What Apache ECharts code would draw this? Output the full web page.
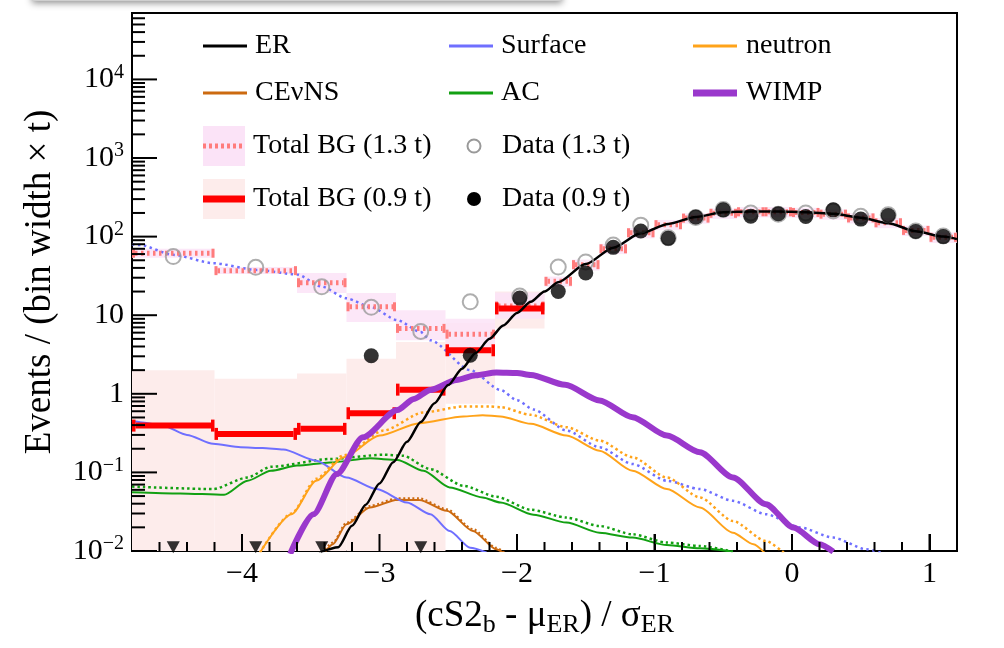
<!DOCTYPE html>
<html><head><meta charset="utf-8">
<script src="https://cdn.jsdelivr.net/npm/echarts@6/dist/echarts.min.js"></script>
<style>html,body{margin:0;padding:0;background:#fff}#c{width:1004px;height:648px}</style>
</head><body><div id="c"></div>
<script>
// ---------------- data ----------------
const binLo = [-4.8,-4.2,-3.6,-3.24,-2.88,-2.52,-2.16,-1.8,-1.6,-1.4,-1.2,-1.0,-0.8,-0.6,-0.4,-0.2,0.0,0.2,0.4,0.6,0.8,1.0];
const binHi = [-4.2,-3.6,-3.24,-2.88,-2.52,-2.16,-1.8,-1.6,-1.4,-1.2,-1.0,-0.8,-0.6,-0.4,-0.2,0.0,0.2,0.4,0.6,0.8,1.0,1.2];
const binCenter = [-4.5,-3.9,-3.42,-3.06,-2.70,-2.34,-1.98,-1.7,-1.5,-1.3,-1.1,-0.9,-0.7,-0.5,-0.3,-0.1,0.1,0.3,0.5,0.7,0.9,1.1];
const data09 = [null,null,null,3.05,null,3.1,16.5,20,34.5,73,118,95,178,219,182,195,180,219,167,186,116,100];
const data13 = [55.7,40.7,23,12.6,6.2,14.8,17.5,41,47.6,78,140,97,175,222,200,192,200,212,181,190,118,102];
const zeroBins09 = [-4.5,-3.9,-3.42,-2.70];
const bg13 = [61.5,36.9,25.9,12.8,6.8,5.74,13.1,27,44,70,112,142,172,198,207,207,203,193,173,150,120,98];
const bg13Lo = [54,33.5,19.1,8.2,4.8,3.8,9.0,23,37,60,95,121,146,168,176,176,173,164,147,128,102,83];
const bg13Hi = [70,41,34.5,19.1,11.6,9.0,19.5,31,51,81,129,163,198,228,238,238,233,222,199,173,138,113];
const bg09 = [0.394,0.309,0.358,0.566,1.13,3.58,12.2];
const bg09Lo = [0.01,0.01,0.01,0.01,0.01,0.75,6.8];
const bg09Hi = [1.99,1.56,1.81,2.8,4.57,8.0,20];

const erCurve = [[-3.44,0.0095],[-3.30,0.0112],[-3.20,0.0209],[-3.10,0.0389],[-3.00,0.0724],[-2.90,0.135],[-2.80,0.245],[-2.70,0.437],[-2.60,0.759],[-2.50,1.29],[-2.40,2.09],[-2.30,3.31],[-2.20,5.01],[-2.10,7.41],[-2.00,10.7],[-1.90,14.8],[-1.80,20],[-1.70,26.3],[-1.50,44.7],[-1.30,72.4],[-1.10,110],[-0.90,145],[-0.70,178],[-0.50,204],[-0.30,209],[-0.10,209],[0.10,204],[0.30,195],[0.50,174],[0.70,148],[0.90,117],[1.10,100],[1.20,93]];
const surfaceCurve = [[-4.8,0.45],[-4.74,0.436],[-4.57,0.39],[-4.4,0.3],[-4.21,0.231],[-4.01,0.209],[-3.85,0.204],[-3.70,0.195],[-3.46,0.141],[-3.24,0.086],[-3.02,0.0614],[-2.80,0.0414],[-2.63,0.0294],[-2.49,0.018],[-2.34,0.011],[-2.22,0.0095]];
const surface13Curve = [[-4.8,80],[-4.74,78],[-4.5,58.6],[-4.21,45.9],[-3.89,37.7],[-3.6,33],[-3.42,23.1],[-3.24,16.4],[-3.06,12.6],[-2.87,8.65],[-2.70,6.1],[-2.63,4.8],[-2.34,2.0],[-2.12,1.12],[-2.0,0.83],[-1.88,0.63],[-1.64,0.341],[-1.40,0.209],[-1.16,0.128],[-0.91,0.0783],[-0.67,0.0614],[-0.43,0.0435],[-0.19,0.0294],[0.06,0.0199],[0.30,0.0148],[0.54,0.0105],[0.65,0.0095]];
const neutronCurve = [[-3.87,0.0095],[-3.64,0.0294],[-3.46,0.0783],[-3.26,0.156],[-3.0,0.294],[-2.71,0.423],[-2.39,0.514],[-2.25,0.534],[-2.12,0.515],[-1.9,0.415],[-1.64,0.294],[-1.40,0.189],[-1.16,0.105],[-0.91,0.0614],[-0.67,0.0357],[-0.43,0.0171],[-0.28,0.0122],[-0.2,0.0095]];
const neutron13Curve = [[-3.87,0.0095],[-3.64,0.03],[-3.46,0.083],[-3.26,0.165],[-2.97,0.341],[-2.68,0.58],[-2.39,0.69],[-2.2,0.69],[-2.12,0.676],[-1.9,0.54],[-1.64,0.376],[-1.40,0.254],[-1.16,0.156],[-0.91,0.0862],[-0.67,0.048],[-0.43,0.0241],[-0.19,0.0134],[-0.06,0.0095]];
const cevnsCurve = [[-3.40,0.0095],[-3.34,0.0122],[-3.24,0.0219],[-3.07,0.0357],[-2.87,0.0448],[-2.71,0.0446],[-2.51,0.0325],[-2.32,0.018],[-2.15,0.0105],[-2.10,0.0095]];
const cevns13Curve = [[-3.42,0.0095],[-3.34,0.0128],[-3.24,0.023],[-3.07,0.0375],[-2.87,0.047],[-2.71,0.0468],[-2.51,0.034],[-2.32,0.019],[-2.15,0.011],[-2.09,0.0095]];
const acCurve = [[-4.8,0.056],[-4.45,0.054],[-4.13,0.0519],[-3.96,0.0783],[-3.79,0.105],[-3.6,0.122],[-3.36,0.134],[-3.07,0.151],[-2.87,0.144],[-2.68,0.105],[-2.49,0.0644],[-2.25,0.048],[-2.12,0.0414],[-1.88,0.029],[-1.64,0.023],[-1.40,0.0171],[-1.16,0.0148],[-0.91,0.0119],[-0.67,0.0108],[-0.43,0.0098]];
const ac13Curve = [[-4.8,0.066],[-4.21,0.0614],[-3.96,0.0862],[-3.79,0.118],[-3.36,0.148],[-2.97,0.168],[-2.83,0.163],[-2.63,0.11],[-2.39,0.0676],[-2.15,0.049],[-1.9,0.0335],[-1.64,0.0266],[-1.40,0.0208],[-1.16,0.0163],[-0.91,0.0128],[-0.67,0.0116],[-0.43,0.0098]];
const wimpCurve = [[-3.65,0.0092],[-3.48,0.0294],[-3.31,0.0955],[-3.12,0.28],[-2.87,0.62],[-2.75,0.86],[-2.63,1.12],[-2.44,1.5],[-2.30,1.72],[-2.15,1.87],[-2.0,1.84],[-1.9,1.74],[-1.65,1.3],[-1.40,0.824],[-1.16,0.504],[-0.91,0.294],[-0.67,0.18],[-0.43,0.0862],[-0.19,0.0394],[0.01,0.0199],[0.20,0.0122],[0.30,0.0098]];

const xLabelTicks = [-4,-3,-2,-1,0,1];
const yMajorTicks = [0.01,0.1,1,10,100,1000,10000];

// ---------------- helpers ----------------
const FONT = "'Liberation Serif','DejaVu Serif',serif";
const XMIN = -4.8, XMAX = 1.2, YMIN = 0.01, YMAX = 70000;
const C = {er:'#000000', surf:'#6f6fff', neu:'#ffa31a', cev:'#cc6a10', ac:'#12a012', wimp:'#9a38cc', bg09:'#ff0000', bg13:'#ff7c7c', band09:'#fdeceb', band13:'#fbe3f7'};

// axis decoration: tick positions
const yTickData = [];
yMajorTicks.forEach(d => {
  yTickData.push([XMIN, d, 1]);
  for (let k = 2; k <= 9; k++) { if (k * d <= YMAX) yTickData.push([XMIN, k * d, 0]); }
});
const xTickData = [];
for (let i = -23; i <= 5; i++) xTickData.push([i / 5, 1, i % 5 === 0 ? 1 : 0]);

function bandSeries(lo, hi, vals, color, opacity) {
  return {
    type:'custom', silent:true, z:1,
    encode:{x:[0,1], y:[2,3]},
    data: vals.map((v,i)=>[binLo[i], binHi[i], lo[i], hi[i]]),
    renderItem:(p, api)=>{
      const a = api.coord([api.value(0), api.value(3)]);
      const b = api.coord([api.value(1), api.value(2)]);
      return {type:'rect', shape:{x:a[0], y:a[1], width:b[0]-a[0], height:b[1]-a[1]}, style:{fill:color, opacity:opacity}};
    }
  };
}
function barSeries(vals, color, width, dash, capH, capW, z) {
  return {
    type:'custom', silent:true, z:z,
    encode:{x:[0,1], y:2},
    data: vals.map((v,i)=>[binLo[i], binHi[i], v]),
    renderItem:(p, api)=>{
      const a = api.coord([api.value(0), api.value(2)]);
      const b = api.coord([api.value(1), api.value(2)]);
      const line = {type:'line', shape:{x1:a[0]+capW, y1:a[1], x2:b[0]-capW, y2:b[1]}, style:{stroke:color, lineWidth:width}};
      if (dash) line.style.lineDash = dash;
      return {type:'group', children:[
        line,
        {type:'rect', shape:{x:a[0], y:a[1]-capH/2, width:capW, height:capH}, style:{fill:color}},
        {type:'rect', shape:{x:b[0]-capW, y:b[1]-capH/2, width:capW, height:capH}, style:{fill:color}}
      ]};
    }
  };
}
function lineSeries(name, data, color, width, dash, z) {
  return {name:name, type:'line', data:data, showSymbol:false, symbol:'none', smooth:0.25, smoothMonotone:'x',
    clip:true, silent:true, z:z, lineStyle:{color:color, width:width, type:dash || 'solid'}};
}

// ---------------- legend graphics ----------------
const lg = [];
function lgLine(x1, x2, y, color, w, dash) {
  const el = {type:'line', shape:{x1:x1, y1:y, x2:x2, y2:y}, style:{stroke:color, lineWidth:w}};
  if (dash) el.style.lineDash = dash;
  lg.push(el);
}
function lgText(x, y, t) { lg.push({type:'text', x:x, y:y, style:{text:t, font:"28px " + FONT, fill:'#000', verticalAlign:'middle'}}); }
const r1 = 46, r2 = 93, r3 = 146, r4 = 199;
lg.push({type:'rect', shape:{x:32, y:-24, width:530, height:25}, style:{fill:'#cfcfcf', shadowBlur:7, shadowColor:'rgba(0,0,0,0.45)', shadowOffsetY:2}});
lgLine(203,247,r1,C.er,3); lgText(255,r1,'ER');
lgLine(449,493,r1,C.surf,3); lgText(501,r1,'Surface');
lgLine(693,737,r1,C.neu,3); lgText(746,r1,'neutron');
lgLine(203,247,r2,C.cev,3); lgText(255,r2,'CEνNS');
lgLine(449,493,r2,C.ac,3); lgText(501,r2,'AC');
lgLine(693,737,r2,C.wimp,7); lgText(746,r2,'WIMP');
lg.push({type:'rect', shape:{x:203, y:126, width:42, height:40}, style:{fill:C.band13}});
lgLine(203,245,r3,C.bg13,5,[3,3]); lgText(253,r3,'Total BG (1.3 t)');
lg.push({type:'rect', shape:{x:203, y:179, width:42, height:40}, style:{fill:C.band09}});
lgLine(203,245,r4,C.bg09,7); lgText(253,r4,'Total BG (0.9 t)');
lg.push({type:'circle', shape:{cx:474, cy:r3, r:6.5}, style:{fill:'none', stroke:'#999', lineWidth:2}});
lgText(502,r3,'Data (1.3 t)');
lg.push({type:'circle', shape:{cx:474, cy:r4, r:7}, style:{fill:'#000'}});
lgText(502,r4,'Data (0.9 t)');

// ---------------- chart ----------------
const chart = echarts.init(document.getElementById('c'), null, {renderer:'canvas', width:1004, height:648});
const minus = s => String(s).replace('-', '\u2212');

const option = {
  animation:false,
  backgroundColor:'#ffffff',
  textStyle:{fontFamily:FONT},
  grid:{left:132, right:47, top:13, bottom:97, show:true, borderColor:'#000', borderWidth:2, backgroundColor:'transparent'},
  xAxis:{type:'value', min:XMIN, max:XMAX, splitNumber:6, position:'bottom',
     axisLine:{show:true, onZero:false, lineStyle:{color:'#000', width:2}},
     axisTick:{show:true, inside:true, length:17, lineStyle:{color:'#000', width:2}}, minorTick:{show:false},
     axisLabel:{show:true, showMinLabel:false, showMaxLabel:false, margin:8, color:'#000', fontFamily:FONT, fontSize:30,
       formatter:v => xLabelTicks.some(t => Math.abs(t - v) < 1e-6) ? minus(Math.round(v)) : ''},
     splitLine:{show:false},
     name:'(cS2{s|b} - μ{s|ER}) / σ{s|ER}', nameLocation:'middle', nameGap:40,
     nameTextStyle:{color:'#000', fontFamily:FONT, fontSize:37, lineHeight:44,
       rich:{s:{color:'#000', fontFamily:FONT, fontSize:26, lineHeight:18, verticalAlign:'bottom'}}}},
  yAxis:{type:'log', logBase:10, min:YMIN, max:YMAX,
    axisLine:{show:true, onZero:false, lineStyle:{color:'#000', width:2}},
    axisTick:{show:false}, minorTick:{show:false}, splitLine:{show:false},
    axisLabel:{show:true, showMaxLabel:false, margin:8,
      formatter:v => {
        const l = Math.log10(v), e = Math.round(l);
        if (Math.abs(l - e) > 0.01 || e > 4) return '';
        if (e === 0) return '{b|1}';
        if (e === 1) return '{b|10}';
        return '{b|10}{s|' + (e < 0 ? '\u2212' : '') + Math.abs(e) + '}';
      },
      rich:{b:{color:'#000', fontFamily:FONT, fontSize:30, lineHeight:34},
            s:{color:'#000', fontFamily:FONT, fontSize:20, lineHeight:20, verticalAlign:'top'}}},
    name:'Events / (bin width × t)', nameLocation:'middle', nameRotate:90, nameGap:59,
    nameTextStyle:{color:'#000', fontFamily:FONT, fontSize:37, lineHeight:44}},
  graphic:lg,
  series:[
    {name:'xTicks', type:'custom', silent:true, zlevel:1, z:9, encode:{x:0, y:1}, data:xTickData,
     renderItem:(p, api)=>{
       const q = api.coord([api.value(0), YMIN]);
       const len = api.value(2) ? 17 : 9;
       return {type:'rect', shape:{x:q[0]-1, y:q[1]-len, width:2, height:len}, style:{fill:'#000'}};
     }},
    {name:'yTicks', type:'custom', silent:true, z:9, encode:{x:0, y:1}, data:yTickData,
     renderItem:(p, api)=>{
       const q = api.coord([api.value(0), api.value(1)]);
       const len = api.value(2) ? 25 : 13;
       return {type:'line', shape:{x1:q[0], y1:q[1], x2:q[0]+len, y2:q[1]}, style:{stroke:'#000', lineWidth:2}};
     }},
    bandSeries(bg09Lo, bg09Hi, bg09, C.band09, 1),
    bandSeries(bg13Lo, bg13Hi, bg13, C.band13, 0.85),
    lineSeries('AC13', ac13Curve, C.ac, 2.5, [2.5,3], 3),
    lineSeries('AC', acCurve, C.ac, 2, null, 3),
    lineSeries('CEvNS13', cevns13Curve, C.cev, 2, [2,2.5], 3),
    lineSeries('CEvNS', cevnsCurve, C.cev, 2, null, 3),
    lineSeries('Surface13', surface13Curve, C.surf, 2.5, [2.5,3.5], 3),
    lineSeries('Surface', surfaceCurve, C.surf, 2, null, 3),
    lineSeries('neutron13', neutron13Curve, C.neu, 2.5, [2.5,3], 3),
    lineSeries('neutron', neutronCurve, C.neu, 2, null, 3),
    barSeries(bg13, C.bg13, 5, [2.5,3.5], 9, 3, 4),
    barSeries(bg09, C.bg09, 6, null, 12, 3.5, 4),
    lineSeries('WIMP', wimpCurve, C.wimp, 6, null, 5),
    lineSeries('ER', erCurve, C.er, 2.5, null, 6),
    {name:'Data (1.3 t)', type:'scatter', silent:true, z:7, symbol:'circle', symbolSize:15,
     itemStyle:{color:'rgba(255,255,255,0)', borderColor:'#9a9a9a', borderWidth:2},
     data: binCenter.map((x,i)=>[x, data13[i]])},
    {name:'Data (0.9 t)', type:'scatter', silent:true, z:8, symbol:'circle', symbolSize:15,
     itemStyle:{color:'#000'},
     data: binCenter.map((x,i)=>[x, data09[i]]).filter(d => d[1] !== null)},
    {name:'zero09', type:'scatter', silent:true, z:8, symbol:'triangle', symbolRotate:180, symbolSize:[13,12],
     itemStyle:{color:'#000'}, data: zeroBins09.map(x => [x, 0.0112])}
  ]
};
chart.setOption(option);
</script>
</body></html>
